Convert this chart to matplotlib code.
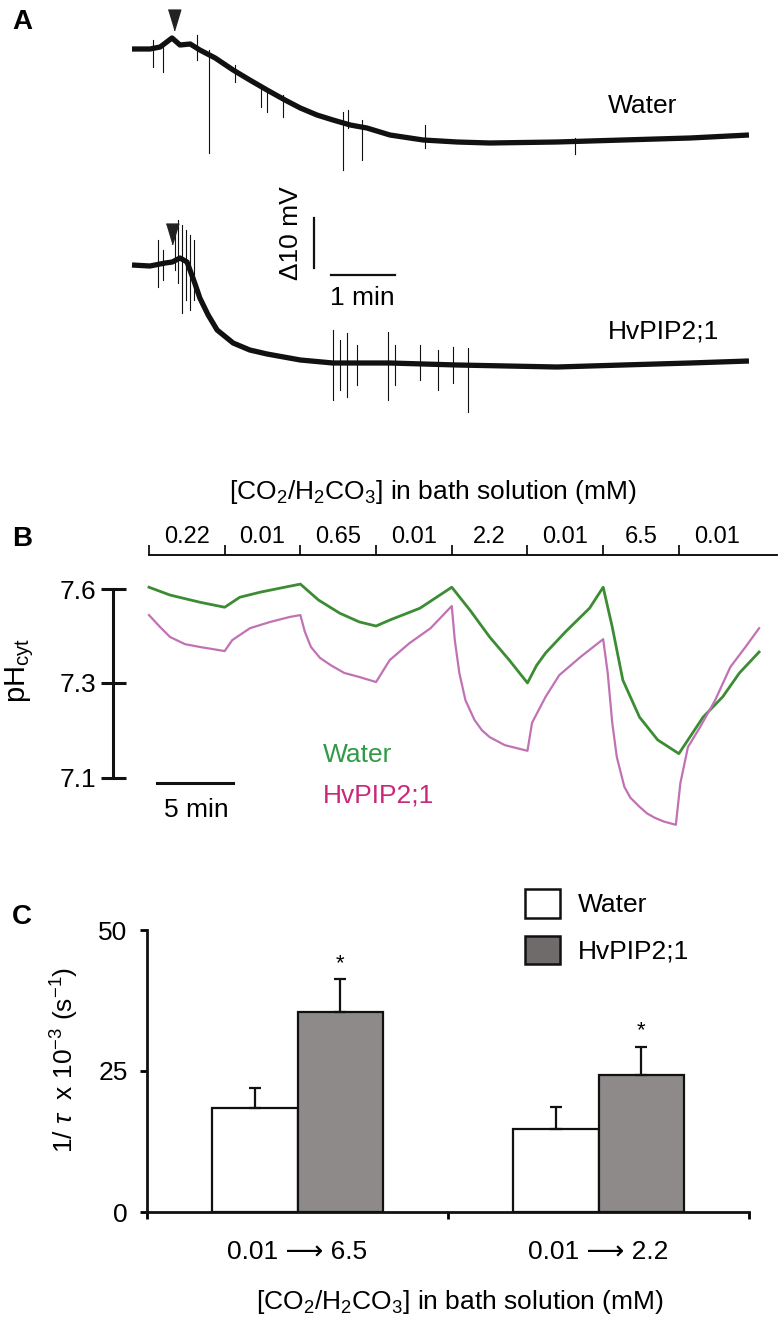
import numpy as np
import matplotlib
matplotlib.use('Agg')
import matplotlib.pyplot as plt
from matplotlib.patches import Patch

plt.rcParams['font.family'] = ['Liberation Sans', 'DejaVu Sans']
plt.rcParams['mathtext.fontset'] = 'custom'
plt.rcParams['mathtext.rm'] = 'Liberation Sans'
plt.rcParams['mathtext.it'] = 'Liberation Sans:italic'

# ── data: panel A, membrane potential traces (min, mV relative to start) ──
water_t = [0.0, 0.28, 0.44, 0.625, 0.75, 0.91, 1.06, 1.30, 1.58, 1.84, 2.11, 2.39,
           2.63, 2.89, 3.14, 3.41, 3.67, 4.03, 4.55, 5.08, 5.59, 6.64, 7.67, 8.72, 9.64]
water_mv = [0.0, 0.0, 0.4, 2.2, 0.8, 1.0, -0.2, -1.8, -4.2, -6.2, -8.2, -10.2,
            -11.8, -13.2, -14.2, -15.2, -15.8, -17.2, -18.2, -18.6, -18.8, -18.6, -18.2, -17.8, -17.2]
# spikes: (time, low, high)
water_spikes = [(0.33, -3.6, 1.8), (0.48, -4.6, 0.8), (1.02, -2.2, 2.8), (1.20, -20.8, -0.2),
                (1.61, -6.6, -3.2), (2.02, -11.6, -7.2), (2.11, -12.6, -7.8), (2.36, -13.6, -9.2),
                (3.30, -24.2, -12.6), (3.38, -15.8, -12.2), (3.59, -22.2, -14.2),
                (4.58, -19.8, -15.2), (6.92, -21.0, -17.8)]

hv_t = [0.0, 0.28, 0.52, 0.63, 0.75, 0.86, 0.98, 1.06, 1.19, 1.33, 1.58, 1.84,
        2.11, 2.63, 3.14, 4.03, 5.08, 6.64, 7.67, 8.72, 9.64]
hv_mv = [0.0, -0.2, 0.4, 0.6, 1.4, 0.6, -3.6, -6.6, -10.0, -13.0, -15.6, -17.0,
         -17.8, -19.0, -19.6, -19.6, -20.0, -20.4, -20.0, -19.6, -19.2]
hv_spikes = [(0.41, -4.4, 5.0), (0.48, -3.0, 3.0), (0.67, -1.0, 6.0), (0.72, -3.6, 9.0),
             (0.78, -9.6, 8.0), (0.84, -7.0, 7.0), (0.91, -9.0, 6.0), (0.97, -7.0, 5.0),
             (3.14, -27.0, -13.0), (3.25, -25.0, -15.0), (3.36, -26.4, -13.6), (3.52, -24.0, -16.0),
             (4.00, -27.0, -13.4), (4.11, -24.0, -16.0), (4.50, -23.0, -16.0), (4.78, -25.0, -17.0),
             (5.02, -23.6, -16.4), (5.25, -29.4, -16.6)]
arrow_t = [0.66, 0.625]
arrow_mv = [5.8, 6.2]

# ── data: panel B, cytosolic pH (min) ──
conc_labels = ['0.22', '0.01', '0.65', '0.01', '2.2', '0.01', '6.5', '0.01']
switch_t = [0, 5, 10, 15, 20, 25, 30, 35]

ph_water_t = [0.0, 1.39, 3.37, 5.0, 6.0, 7.33, 8.65, 10.0, 11.2, 12.6, 13.9, 15.0,
              15.9, 17.9, 20.0, 21.2, 22.5, 23.8, 25.0, 25.6, 26.2, 27.5, 29.1, 30.0, 30.6,
              31.3, 32.4, 33.6, 35.0, 36.6, 37.9, 39.0, 40.3]
ph_water = [7.606, 7.581, 7.558, 7.542, 7.574, 7.590, 7.603, 7.616, 7.565, 7.523, 7.495, 7.482,
            7.501, 7.539, 7.606, 7.533, 7.447, 7.373, 7.300, 7.356, 7.396, 7.463, 7.539, 7.606, 7.479,
            7.309, 7.228, 7.180, 7.151, 7.228, 7.271, 7.332, 7.399]

ph_hv_t = [0.0, 0.73, 1.39, 2.38, 3.37, 5.0, 5.5, 6.67, 8.0, 9.3, 10.0, 10.3, 10.7, 11.3,
           12.0, 12.9, 13.9, 15.0, 15.9, 17.2, 18.6, 20.0, 20.2, 20.5, 20.9, 21.5, 22.0, 22.5,
           23.5, 25.0, 25.3, 26.2, 27.1, 28.5, 30.0, 30.3, 30.6, 30.9, 31.4, 31.8, 32.4, 32.9,
           33.4, 34.0, 34.8, 35.1, 35.6, 36.4, 37.4, 38.4, 39.4, 40.3]
ph_hv = [7.517, 7.479, 7.447, 7.424, 7.415, 7.402, 7.437, 7.475, 7.495, 7.511, 7.517, 7.463,
         7.415, 7.380, 7.357, 7.332, 7.319, 7.303, 7.373, 7.427, 7.475, 7.546, 7.437, 7.332,
         7.264, 7.222, 7.200, 7.186, 7.169, 7.157, 7.216, 7.271, 7.325, 7.383, 7.440, 7.332,
         7.216, 7.144, 7.081, 7.058, 7.039, 7.025, 7.016, 7.008, 7.001, 7.089, 7.165, 7.207,
         7.264, 7.351, 7.415, 7.475]
ph_ticks = [7.1, 7.3, 7.6]

# ── data: panel C, rate constants ──
groups = ['0.01 \u27f6 6.5', '0.01 \u27f6 2.2']
water_rate = [18.4, 14.7]
water_err = [3.6, 3.9]
hv_rate = [35.5, 24.3]
hv_err = [5.8, 5.0]

W, H = 780, 1325
fig = plt.figure(figsize=(W / 100, H / 100), dpi=100)


def px(x, y):
    return x / W, 1 - y / H


black = '#111111'
green_line = '#3b8c33'
green_txt = '#2f9a47'
mag_line = '#c072b4'
mag_txt = '#c8287a'

# ── Panel A ────────────────────────────────────────────
ax_a = fig.add_axes([0, 1 - 420 / H, 1, 420 / H])
ax_a.set_xlim(-2.0625, 10.125)
ax_a.set_ylim(-74.2, 9.8)
ax_a.axis('off')

hv_offset = -43.2
for t, v, spikes, off in [(water_t, water_mv, water_spikes, 0.0),
                          (hv_t, hv_mv, hv_spikes, hv_offset)]:
    ax_a.plot(t, np.array(v) + off, color=black, lw=3.8, solid_capstyle='butt')
    for st, lo, hi in spikes:
        ax_a.plot([st, st], [lo + off, hi + off], color=black, lw=0.8)

tri = [(-0.6, 1), (0.6, 1), (0, -1)]
ax_a.plot(arrow_t[0], arrow_mv[0], marker=tri, ms=15, color='#222222', ls='none')
ax_a.plot(arrow_t[1], arrow_mv[1] + hv_offset, marker=tri, ms=15, color='#222222', ls='none')

# scale bars
ax_a.plot([2.84, 2.84], [-33.8, -43.8], color=black, lw=1.6)
ax_a.plot([3.11, 4.11], [-45.2, -45.2], color=black, lw=1.6)
fig.text(*px(291, 233), '\u039410 mV', rotation=90, ha='center', va='center', fontsize=19)
fig.text(*px(362, 298), '1 min', ha='center', va='center', fontsize=19)
fig.text(*px(608, 106), 'Water', ha='left', va='center', fontsize=19)
fig.text(*px(608, 332), 'HvPIP2;1', ha='left', va='center', fontsize=19)

# ── Panel B ────────────────────────────────────────────
lo_slope, hi_slope = 475.0, 313.3


def ph_fwd(v):
    v = np.asarray(v, dtype=float)
    return np.where(v < 7.3, (v - 7.1) * lo_slope, 95 + (v - 7.3) * hi_slope)


def ph_inv(u):
    u = np.asarray(u, dtype=float)
    return np.where(u < 95, 7.1 + u / lo_slope, 7.3 + (u - 95) / hi_slope)


ax_b = fig.add_axes([0, 1 - 840 / H, 1, 285 / H])
ax_b.set_yscale('function', functions=(ph_fwd, ph_inv))
ax_b.set_xlim(-9.84, 41.68)
ax_b.set_ylim(6.969, 7.709)
ax_b.patch.set_visible(False)

ax_b.plot(ph_water_t, ph_water, color=green_line, lw=2.0)
ax_b.plot(ph_hv_t, ph_hv, color=mag_line, lw=1.6)

for s in ['right', 'bottom']:
    ax_b.spines[s].set_visible(False)
ax_b.spines['top'].set_bounds(0, 41.45)
ax_b.spines['top'].set_linewidth(1.3)
ax_b.xaxis.set_ticks_position('top')
ax_b.set_xticks(switch_t)
ax_b.set_xticklabels([''] * len(switch_t))
ax_b.set_xticks([t + 2.5 for t in switch_t], minor=True)
ax_b.set_xticklabels(conc_labels, minor=True)
ax_b.tick_params(axis='x', which='major', direction='out', length=7, width=1.3, color=black)
ax_b.tick_params(axis='x', which='minor', length=0, pad=5, labelsize=17)

ax_b.spines['left'].set_position(('data', -2.38))
ax_b.spines['left'].set_bounds(7.1, 7.6)
ax_b.spines['left'].set_linewidth(2.2)
ax_b.spines['left'].set_color(black)
ax_b.set_yticks(ph_ticks)
ax_b.set_yticklabels([str(v) for v in ph_ticks])
ax_b.yaxis.set_minor_locator(matplotlib.ticker.NullLocator())
ax_b.tick_params(axis='y', direction='inout', length=18, width=2.2, labelsize=19, pad=3, color=black)

# 5 min scale bar
ax_b.plot([0.53, 5.53], [7.089, 7.089], color=black, lw=2.2)
fig.text(*px(196, 810), '5 min', ha='center', va='center', fontsize=19)
fig.text(*px(323, 755), 'Water', ha='left', va='center', fontsize=19, color=green_txt)
fig.text(*px(323, 795), 'HvPIP2;1', ha='left', va='center', fontsize=19, color=mag_txt)
fig.text(*px(20, 670), r'pH$_{\rm cyt}$', rotation=90, ha='center', va='center', fontsize=21)
fig.text(*px(433, 492), r'[CO$_2$/H$_2$CO$_3$] in bath solution (mM)', ha='center',
         va='center', fontsize=19)

# ── Panel C ────────────────────────────────────────────
ax_c = fig.add_axes([147 / W, 1 - 1212 / H, 602 / W, 282 / H])
x = np.arange(len(groups)) + 0.5
bw = 0.283
ax_c.bar(x - bw / 2, water_rate, bw, color='white', edgecolor=black, lw=1.6,
         yerr=[[0] * 2, water_err], capsize=4, error_kw=dict(elinewidth=1.6, capthick=1.6, ecolor=black))
ax_c.bar(x + bw / 2, hv_rate, bw, color='#8e8a8a', edgecolor=black, lw=1.6,
         yerr=[[0] * 2, hv_err], capsize=4, error_kw=dict(elinewidth=1.6, capthick=1.6, ecolor=black))
for xi, r, e in zip(x, hv_rate, hv_err):
    ax_c.text(xi + bw / 2, r + e + 0.9, '*', ha='center', va='bottom', fontsize=16)

ax_c.set_xlim(0, 2)
ax_c.set_ylim(0, 50)
for s in ['right', 'top']:
    ax_c.spines[s].set_visible(False)
for s in ['left', 'bottom']:
    ax_c.spines[s].set_linewidth(2.0)
    ax_c.spines[s].set_color(black)
ax_c.set_yticks([0, 25, 50])
ax_c.tick_params(axis='y', direction='out', length=5, width=2.0, labelsize=19, pad=9)
ax_c.set_xticks([0, 1, 2])
ax_c.set_xticklabels(['', '', ''])
ax_c.set_xticks(x, minor=True)
ax_c.set_xticklabels(groups, minor=True)
ax_c.tick_params(axis='x', which='major', direction='out', length=5, width=2.0)
ax_c.tick_params(axis='x', which='minor', length=0, pad=20, labelsize=19)

ax_c.legend(handles=[Patch(facecolor='white', edgecolor=black, lw=1.8, label='Water'),
                     Patch(facecolor='#6f6b6b', edgecolor=black, lw=1.8, label='HvPIP2;1')],
            loc='upper left', bbox_to_anchor=px(525, 889), bbox_transform=fig.transFigure,
            frameon=False, fontsize=19, handlelength=1.33, handleheight=1.29,
            handletextpad=0.68, labelspacing=0.68, borderpad=0, borderaxespad=0)

fig.text(*px(65, 1060), r'1/ $\tau$  x 10$^{-3}$ (s$^{-1}$)', rotation=90, ha='center',
         va='center', fontsize=19)
fig.text(*px(460, 1302), r'[CO$_2$/H$_2$CO$_3$] in bath solution (mM)', ha='center',
         va='center', fontsize=19)

# panel letters
for lab, (lx, ly) in zip('ABC', [(22, 22), (22, 539), (22, 917)]):
    fig.text(*px(lx, ly), lab, ha='center', va='center', fontsize=20, fontweight='bold')

fig.savefig('out.png', dpi=100)
